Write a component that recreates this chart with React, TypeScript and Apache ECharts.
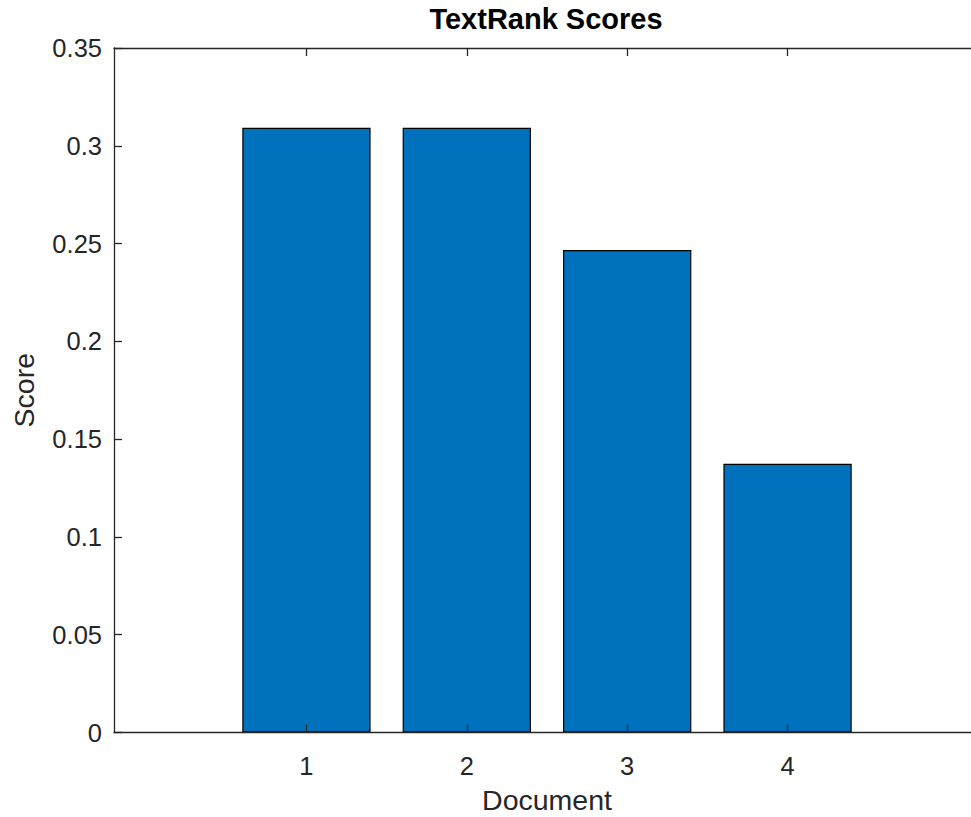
import React, { useEffect, useRef } from "react";
import * as echarts from "echarts";

const documents = [1, 2, 3, 4];
const scores = [0.3092, 0.3092, 0.2467, 0.1374];
const yTicks = [0, 0.05, 0.1, 0.15, 0.2, 0.25, 0.3, 0.35];

const FONT = "'Liberation Sans', Arial, Helvetica, sans-serif";
const AX = "#262626";

export default function App() {
  const ref = useRef<HTMLDivElement>(null);
  useEffect(() => {
    document.body.style.margin = "0";
    const chart = echarts.init(ref.current!, undefined, { renderer: "svg" });
    const xCommon = {
      type: "value" as const,
      min: -0.2,
      max: 5.2,
      z: 5,
      splitLine: { show: false },
      axisLine: { show: true, onZero: false, lineStyle: { color: AX, width: 1.3 } },
      axisTick: { show: true, inside: true, length: 8, customValues: documents, lineStyle: { color: AX, width: 1.3 } },
    };
    const yCommon = {
      type: "value" as const,
      min: 0,
      max: 0.35,
      interval: 0.05,
      z: 5,
      splitLine: { show: false },
      axisLine: { show: true, onZero: false, lineStyle: { color: AX, width: 1.3 } },
      axisTick: { show: true, inside: true, length: 8, lineStyle: { color: AX, width: 1.3 } },
    };
    chart.setOption({
      animation: false,
      backgroundColor: "#ffffff",
      title: {
        text: "TextRank Scores",
        left: 546,
        top: 4,
        padding: 0,
        textAlign: "center",
        textStyle: { fontFamily: FONT, fontSize: 29, fontWeight: "bold", color: "#000000" },
      },
      grid: {
        left: 114,
        top: 48,
        width: 866,
        height: 684.5,
        containLabel: false,
        outerBoundsMode: "none",
      },
      xAxis: [
        {
          ...xCommon,
          position: "bottom",
          name: "Document",
          nameLocation: "middle",
          nameGap: 53,
          nameTextStyle: { fontFamily: FONT, fontSize: 28.5, color: AX },
          axisLabel: {
            show: true,
            customValues: documents,
            margin: 20,
            fontFamily: FONT,
            fontSize: 25.5,
            color: AX,
          },
        },
        {
          ...xCommon,
          position: "top",
          axisLabel: { show: false },
        },
      ],
      yAxis: [
        {
          ...yCommon,
          position: "left",
          name: "Score",
          nameLocation: "middle",
          nameGap: 76,
          nameTextStyle: { fontFamily: FONT, fontSize: 28.5, color: AX },
          axisLabel: {
            show: true,
            margin: 12,
            fontFamily: FONT,
            fontSize: 25.5,
            color: AX,
            customValues: yTicks,
          },
        },
        {
          ...yCommon,
          position: "right",
          axisLabel: { show: false },
        },
      ],
      series: [
        {
          type: "bar",
          xAxisIndex: 0,
          yAxisIndex: 0,
          barWidth: "80%",
          data: documents.map((d, i) => [d, scores[i]]),
          itemStyle: { color: "#0072BD", borderColor: "#000000", borderWidth: 1.2 },
        },
      ],
    });
    return () => chart.dispose();
  }, []);
  return <div ref={ref} style={{ width: 971, height: 817 }} />;
}
